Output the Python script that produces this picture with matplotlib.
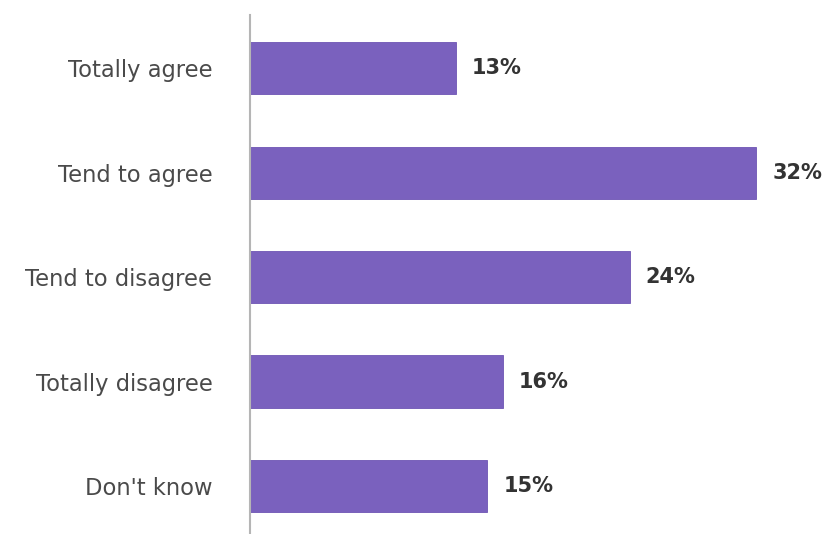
import matplotlib
matplotlib.use("Agg")
import matplotlib.pyplot as plt

categories = ["Totally agree", "Tend to agree", "Tend to disagree", "Totally disagree", "Don't know"]
values = [13, 32, 24, 16, 15]
value_labels = ["13%", "32%", "24%", "16%", "15%"]

W, H = 829, 534
fig = plt.figure(figsize=(W / 100, H / 100), dpi=100)
fig.patch.set_facecolor("white")
ax = fig.add_axes([250 / W, 0, (W - 250) / W, (H - 15) / H])

pos = list(range(len(categories)))
ax.barh(pos, values, height=0.5, color="#7a61be", edgecolor="#6e55b3", linewidth=0.6)

ax.set_xlim(0, 36.6)
ax.set_ylim(4.46, -0.51)

for spine in ["top", "right", "bottom"]:
    ax.spines[spine].set_visible(False)
ax.spines["left"].set_color("#b5b5b5")
ax.spines["left"].set_linewidth(1.5)

ax.set_xticks([])
ax.set_yticks(pos)
ax.set_yticklabels(categories, fontsize=16.3, color="#4a4a4a", family="DejaVu Sans")
ax.tick_params(axis="y", length=0, pad=27)

for p, v, lab in zip(pos, values, value_labels):
    ax.annotate(lab, (v, p), xytext=(16, 0), textcoords="offset pixels",
                va="center", ha="left", fontsize=15, fontweight="bold",
                color="#333333", family="DejaVu Sans")

fig.savefig("out.png", dpi=100, facecolor="white")
